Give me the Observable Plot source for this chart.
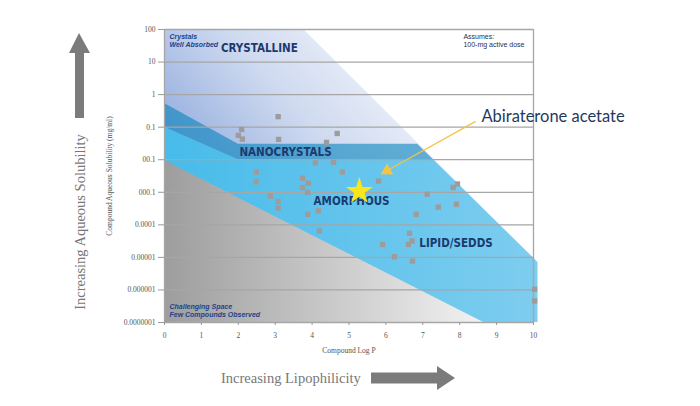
<!DOCTYPE html>
<html>
<head>
<meta charset="utf-8">
<script src="https://cdn.jsdelivr.net/npm/d3@7"></script>
<script src="https://cdn.jsdelivr.net/npm/@observablehq/plot@0.6"></script>
<style>
  html, body { margin: 0; padding: 0; background: #ffffff; }
  #chart { width: 700px; height: 406px; }
  .region-label text { font-stretch: condensed; }
</style>
</head>
<body>
<div id="chart"></div>
<script>
// ---- compounds (Log P vs aqueous solubility, mg/ml) ----
const logP = [3.08, 3.09, 4.68, 4.39, 4.09, 4.58, 2.49, 4.82, 3.74, 5.80,
              2.09, 2.00, 2.11, 2.49, 3.74, 3.90, 3.88, 2.87, 3.08, 3.08,
              3.88, 4.17, 4.20, 7.12, 7.82, 7.94, 7.42, 7.91, 6.82, 6.64,
              6.71, 6.61, 5.91, 6.23, 6.72, 10.03, 10.03];
const solubility = [0.21, 0.042, 0.064, 0.034, 0.008, 0.0083, 0.0042, 0.0042, 0.0027, 0.0022,
                    0.085, 0.056, 0.043, 0.0021, 0.0014, 0.0019, 0.001, 0.00076, 0.00052, 0.00033,
                    0.00021, 0.00027, 0.000065, 0.00087, 0.0014, 0.0018, 0.00035, 0.00043, 0.00021, 0.000055,
                    0.000032, 0.000025, 0.000025, 0.0000105, 0.0000077, 0.00000105, 0.00000046];

// highlighted compound
const starName = ["Abiraterone acetate"];
const starLogP = [5.28];
const starSol = [0.00107];

// ---- axes ----
const xTicks = [0, 1, 2, 3, 4, 5, 6, 7, 8, 9, 10];
const yTicks = [1e-7, 1e-6, 1e-5, 1e-4, 1e-3, 1e-2, 1e-1, 1, 10, 100];
const yTickLabels = ["0.0000001", "0.000001", "0.00001", "0.0001", "000.1", "00.1", "0.1", "1", "10", "100"];
const xLabel = "Compound Log P";
const yLabel = "Compound Aqueous Solubility (mg/ml)";

// ---- formulation regions (boundaries) ----
const crystallineX = [0, 3.77, 10.12];
const crystallineTop = [100, 100, 7e-6];
const lipidX = [0, 2.0, 7.29, 10.12];
const lipidTop = [0.1, 0.01, 0.01, 7e-6];
const nanoX = [0, 2.0, 6.86, 7.29];
const nanoTop = [0.53, 0.03, 0.03, 0.01];
const nanoBottom = [0.1, 0.01, 0.01, 0.01];
const challengeX = [0, 8.65];
const challengeTop = [0.0095, 1e-7];

// region labels
const regionNames = ["CRYSTALLINE", "NANOCRYSTALS", "AMORPHOUS", "LIPID/SEDDS"];
const regionX = [2.57, 3.28, 5.07, 7.90];
const regionY = [26, 0.0169, 0.00053, 0.0000273];

// notes
const noteItalic = ["Crystals\nWell Absorbed", "Challenging Space\nFew Compounds Observed"];
const noteItalicX = [0.135, 0.135];
const noteItalicY = [45.7, 2.32e-7];
const noteAssume = ["Assumes:\n100-mg active dose"];
const noteAssumeX = [8.10];
const noteAssumeY = [45.7];

// annotation arrow
const annoTextX = [8.59], annoTextY = [0.214];
const annoFromX = [8.43], annoFromY = [0.151];
const annoToX = [6.03], annoToY = [0.00457];

const outerY = "Increasing Aqueous Solubility";
const outerX = "Increasing Lipophilicity";

const SVGNS = "http://www.w3.org/2000/svg";
function svgGroup(markup) {
  const g = document.createElementNS(SVGNS, "g");
  g.innerHTML = markup;
  return g;
}

const gradients = () => svgGroup(`<defs>
  <linearGradient id="gCryst" x1="0" y1="0.42" x2="0.62" y2="0">
    <stop offset="0" stop-color="#8ea9dc"/>
    <stop offset="0.5" stop-color="#cfdaf0"/>
    <stop offset="1" stop-color="#f5f7fc"/>
  </linearGradient>
  <linearGradient id="gLipid" x1="0" y1="0" x2="1" y2="0">
    <stop offset="0" stop-color="#47bbea"/>
    <stop offset="1" stop-color="#7ecdef"/>
  </linearGradient>
  <linearGradient id="gGray" x1="0" y1="0" x2="1" y2="0">
    <stop offset="0" stop-color="#9d9d9d"/>
    <stop offset="1" stop-color="#f2f2f2"/>
  </linearGradient>
</defs>`);

const decorations = () => svgGroup(`
  <path d="M79,33 L90,53 L84,53 L84,118 L75,118 L75,53 L69,53 Z" fill="#7b7b7b"/>
  <text transform="translate(80,222) rotate(-90)" text-anchor="middle" dy="0.35em"
        font-family="Liberation Serif" font-size="14.5" fill="#777">${outerY}</text>
  <text x="221" y="378" dy="0.35em" text-anchor="start" font-family="Liberation Serif" font-size="14.5" fill="#777">${outerX}</text>
  <path d="M371,372.5 L437,372.5 L437,366 L455,378 L437,390 L437,383.5 L371,383.5 Z" fill="#7b7b7b"/>
`);

const chart = Plot.plot({
  width: 700,
  height: 406,
  marginLeft: 164,
  marginRight: 167,
  marginTop: 29,
  marginBottom: 84,
  style: {fontFamily: "Liberation Serif", fontSize: "7.5px", color: "#555", background: "#fff", overflow: "visible"},
  x: {domain: [0, 10]},
  y: {type: "log", domain: [1e-7, 100]},
  marks: [
    gradients,
    Plot.areaY(crystallineX, {x: d => d, y1: 1e-7, y2: (d, i) => crystallineTop[i], fill: "url(#gCryst)"}),
    Plot.areaY(lipidX, {x: d => d, y1: 1e-7, y2: (d, i) => lipidTop[i], fill: "url(#gLipid)"}),
    Plot.areaY(nanoX, {x: d => d, y1: (d, i) => nanoBottom[i], y2: (d, i) => nanoTop[i], fill: "#0082bc", fillOpacity: 0.58}),
    Plot.areaY(challengeX, {x: d => d, y1: 1e-7, y2: (d, i) => challengeTop[i], fill: "url(#gGray)"}),
    Plot.ruleY(yTicks, {stroke: "#a6a6a6", strokeWidth: 1.3}),
    Plot.ruleX([0, 10], {stroke: "#a6a6a6", strokeWidth: 1.3}),
    Plot.axisY({ticks: yTicks, tickFormat: d => yTickLabels[yTicks.indexOf(d)], tickSize: 6, tickPadding: 3,
                stroke: "#999", fill: "#555",
                label: yLabel, labelAnchor: "center", labelArrow: "none", labelOffset: 58}),
    Plot.axisX({ticks: xTicks, tickSize: 3, tickPadding: 7, stroke: "#999", fill: "#555",
                label: xLabel, labelAnchor: "center", labelArrow: "none", labelOffset: 30}),
    Plot.dot(logP, {x: d => d, y: (d, i) => solubility[i], symbol: "square", r: 3, fill: "#9e9b9b"}),
    Plot.text(regionNames, {x: (d, i) => regionX[i], y: (d, i) => regionY[i], text: d => d,
                            fontFamily: "DejaVu Sans", fontWeight: "bold", fontSize: 11.5, fill: "#1b3a6e",
                            className: "region-label"}),
    Plot.text(noteItalic, {x: (d, i) => noteItalicX[i], y: (d, i) => noteItalicY[i], text: d => d,
                           textAnchor: "start", lineHeight: 1.1, fontFamily: "Liberation Sans",
                           fontWeight: "bold", fontStyle: "italic", fontSize: 7, fill: "#1e4388"}),
    Plot.text(noteAssume, {x: (d, i) => noteAssumeX[i], y: (d, i) => noteAssumeY[i], text: d => d,
                           textAnchor: "start", lineHeight: 1.1, fontFamily: "Liberation Sans",
                           fontSize: 7, fill: "#1d2f55"}),
    Plot.dot(starName, {x: (d, i) => starLogP[i], y: (d, i) => starSol[i], symbol: "star", r: 8.5, fill: "#f7e51e"}),
    Plot.link(starName, {x1: (d, i) => annoFromX[i], y1: (d, i) => annoFromY[i],
                         x2: (d, i) => annoToX[i], y2: (d, i) => annoToY[i],
                         stroke: "#f2c545", strokeWidth: 1.3}),
    Plot.dot(starName, {x: (d, i) => annoToX[i], y: (d, i) => annoToY[i], symbol: "triangle", r: 4.7,
                        rotate: 241, fill: "#f2c545"}),
    Plot.text(starName, {x: (d, i) => annoTextX[i], y: (d, i) => annoTextY[i], text: d => d,
                         textAnchor: "start", fontFamily: "Lato", fontSize: 16.5, fill: "#1f3a5f"}),
    decorations
  ]
});

document.getElementById("chart").appendChild(chart);
</script>
</body>
</html>
